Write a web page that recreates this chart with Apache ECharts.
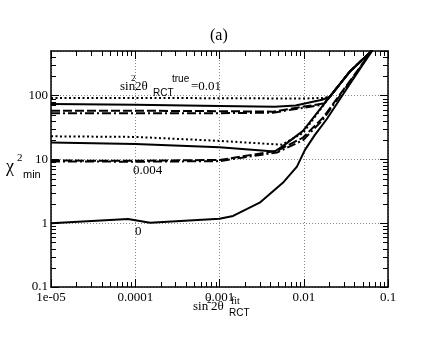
<!DOCTYPE html>
<html>
<head>
<meta charset="utf-8">
<script src="https://cdn.jsdelivr.net/npm/echarts@6/dist/echarts.min.js"></script>
<style>
  html, body { margin: 0; padding: 0; background: #fff; }
  #chart { width: 437px; height: 338px; }
</style>
</head>
<body>
<div id="chart"></div>
<script>
// axis ticks
const xTicks = [1e-5, 1e-4, 1e-3, 1e-2, 1e-1];
const xTickLabels = ['1e-05', '0.0001', '0.001', '0.01', '0.1'];
const yTicks = [0.1, 1, 10, 100];
const yTickLabels = ['0.1', '1', '10', '100'];
const minorSteps = [2, 3, 4, 5, 6, 7, 8, 9];

// sin^2 2theta true = 0.01
const t01Dotted = [[1e-5, 92], [1e-4, 92], [1e-3, 91], [0.01, 90], [0.0169, 92], [0.0204, 96], [0.0352, 238], [0.065, 510]];
const t01Solid = [[1e-5, 74], [1e-4, 72], [1e-3, 69], [0.0045, 67], [0.008, 70], [0.0165, 86], [0.0204, 96], [0.0352, 238], [0.065, 510]];
const t01Dashed = [[1e-5, 58], [1e-4, 58], [1e-3, 57], [0.0043, 56], [0.0169, 75], [0.0204, 96], [0.0352, 238], [0.065, 510]];
const t01DashDot = [[1e-5, 53], [1e-4, 53], [1e-3, 53], [0.0043, 54], [0.0169, 72], [0.0204, 96], [0.0352, 238], [0.065, 510]];

// true = 0.004
const t004Dotted = [[1e-5, 23], [1e-4, 22.5], [1e-3, 19.5], [0.0055, 17], [0.0098, 26], [0.0204, 96], [0.0352, 238], [0.065, 510]];
const t004Solid = [[1e-5, 18.4], [1e-4, 17.5], [1e-3, 15.5], [0.0045, 13.3], [0.0056, 16], [0.0098, 28], [0.0204, 96], [0.0352, 238], [0.065, 510]];
const t004Dashed = [[1e-5, 9.6], [1e-4, 9.5], [1e-3, 9.8], [0.0048, 13.6], [0.0098, 22], [0.0169, 45], [0.065, 510]];
const t004DashDot = [[1e-5, 9.3], [1e-4, 9.2], [1e-3, 9.4], [0.0048, 12.8], [0.0098, 20], [0.0169, 42], [0.065, 510]];

// true = 0
const t0Solid = [[1e-5, 1.0], [8.2e-5, 1.16], [1.5e-4, 1.02], [1e-3, 1.17], [1.45e-3, 1.3], [3e-3, 2.1], [5.65e-3, 4.3], [8.3e-3, 7.7], [0.0103, 14], [0.0135, 24], [0.0188, 43], [0.03, 110], [0.065, 510]];

const chart = echarts.init(document.getElementById('chart'));

const serif = 'Liberation Serif';
const sans = 'Liberation Sans';

function tickLabel(ticks, labels) {
    return function (v) {
        const i = ticks.findIndex(t => Math.abs(Math.log10(v / t)) < 0.01);
        return i >= 0 ? labels[i] : '';
    };
}

function curve(data, type) {
    return {
        type: 'line',
        data: data,
        symbol: 'none',
        clip: true,
        lineStyle: { color: '#000', width: 2, type: type },
        z: 3
    };
}

const DOT = [2, 2.5];
const DASH = [9, 3];
const DASHDOT = [9, 3, 2, 3];

function txt(s, left, top, size, family) {
    return {
        type: 'text', left: left, top: top, silent: true,
        style: { text: s, font: size + 'px "' + (family || serif) + '"', fill: '#000' }
    };
}

function logAxis(extra) {
    return Object.assign({
        type: 'log',
        logBase: 10,
        axisLine: { lineStyle: { color: '#000', width: 1.5 } },
        axisTick: { inside: true, length: 8, lineStyle: { color: '#000', width: 1 } }
    }, extra);
}

chart.setOption({
    animation: false,
    backgroundColor: '#fff',
    grid: { left: 51, right: 49, top: 51, bottom: 51 },
    xAxis: [
        logAxis({
            position: 'bottom', min: 1e-5, max: 0.1,
            axisLabel: { color: '#000', fontFamily: serif, fontSize: 13, margin: 4,
                         formatter: tickLabel(xTicks, xTickLabels) },
            splitLine: { show: true, lineStyle: { color: '#888', type: [1, 2], width: 1 } }
        }),
        logAxis({
            position: 'top', min: 1e-5, max: 0.1,
            axisLabel: { show: false }, splitLine: { show: false }
        })
    ],
    yAxis: [
        logAxis({
            position: 'left', min: 0.1, max: 500,
            axisLabel: { color: '#000', fontFamily: serif, fontSize: 13, margin: 3, showMaxLabel: false,
                         formatter: tickLabel(yTicks, yTickLabels) },
            splitLine: { show: true, lineStyle: { color: '#888', type: [1, 2], width: 1 } }
        }),
        logAxis({
            position: 'right', min: 0.1, max: 500,
            axisLabel: { show: false }, splitLine: { show: false }
        })
    ],
    series: [
        curve(t01Dotted, DOT),
        curve(t01Solid, 'solid'),
        curve(t01Dashed, DASH),
        curve(t01DashDot, DASHDOT),
        curve(t004Dotted, DOT),
        curve(t004Solid, 'solid'),
        curve(t004Dashed, DASH),
        curve(t004DashDot, DASHDOT),
        curve(t0Solid, 'solid')
    ]
});

// minor ticks (2..9 in each decade), placed with the chart's own scales
const toPx = v => chart.convertToPixel({ gridIndex: 0 }, v);
const lo = toPx([1e-5, 0.1]);
const hi = toPx([0.1, 500]);
const crisp = v => Math.round(v) + 0.5;
const minorLen = 5;

function tickLine(x1, y1, x2, y2) {
    return { type: 'line', silent: true, z: 100,
             shape: { x1: x1, y1: y1, x2: x2, y2: y2 },
             style: { stroke: '#000', lineWidth: 1 } };
}

const tickEls = [];
xTicks.slice(0, -1).forEach(d => minorSteps.forEach(m => {
    const x = crisp(toPx([d * m, 1])[0]);
    tickEls.push(tickLine(x, lo[1], x, lo[1] - minorLen));
    tickEls.push(tickLine(x, hi[1], x, hi[1] + minorLen));
}));
yTicks.forEach(d => minorSteps.forEach(m => {
    if (d * m >= 500) return;
    const y = crisp(toPx([1e-3, d * m])[1]);
    tickEls.push(tickLine(lo[0], y, lo[0] + minorLen, y));
    tickEls.push(tickLine(hi[0], y, hi[0] - minorLen, y));
}));

const labels = [
    txt('(a)', 210, 28, 16),
    // y axis name
    txt('\u03c7', 6, 158, 18),
    txt('2', 17, 153, 11),
    txt('min', 23, 169, 11, sans),
    // x axis name
    txt('sin', 193, 300, 13),
    txt('2', 207, 296, 9),
    txt('2\u03b8', 211, 300, 13),
    txt('fit', 231, 296, 10),
    txt('RCT', 229, 308, 10, sans),
    // curve annotations
    txt('sin', 120, 80, 13),
    txt('2', 131, 74, 9),
    txt('2\u03b8', 135, 80, 13),
    txt('RCT', 153, 88, 10, sans),
    txt('true', 172, 74, 10, sans),
    txt('=0.01', 191, 80, 13),
    txt('0.004', 133, 164, 13),
    txt('0', 135, 225, 13)
];

chart.setOption({ graphic: labels.concat(tickEls) });
</script>
</body>
</html>
